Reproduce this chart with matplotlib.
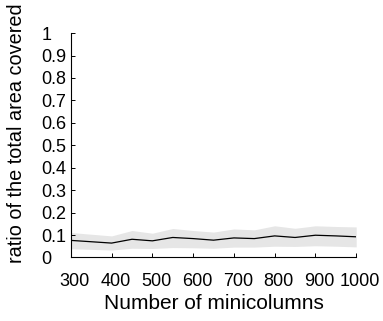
import numpy as np
import matplotlib
matplotlib.use("Agg")
import matplotlib.pyplot as plt
import matplotlib.transforms as mtransforms

plt.rcParams['font.family'] = ['Liberation Sans', 'DejaVu Sans']

# number of minicolumns and the covered-area ratio (mean, band limits)
n_minicolumns = [300, 400, 450, 500, 550, 600, 650, 700, 750, 800, 850, 900, 950, 1000]
ratio_mean = [0.076, 0.064, 0.081, 0.074, 0.089, 0.084, 0.077, 0.087, 0.084, 0.096, 0.089, 0.099, 0.096, 0.092]
ratio_upper = [0.111, 0.096, 0.120, 0.108, 0.129, 0.120, 0.113, 0.127, 0.123, 0.141, 0.130, 0.141, 0.138, 0.136]
ratio_lower = [0.039, 0.033, 0.041, 0.040, 0.044, 0.043, 0.041, 0.046, 0.046, 0.050, 0.049, 0.052, 0.050, 0.047]

y_ticks = [0, 0.1, 0.2, 0.3, 0.4, 0.5, 0.6, 0.7, 0.8, 0.9, 1]
y_ticklabels = ['0', '0.1', '0.2', '0.3', '0.4', '0.5', '0.6', '0.7', '0.8', '0.9', '1']
x_ticks = [300, 400, 500, 600, 700, 800, 900, 1000]

fig = plt.figure(figsize=(3.83, 3.21), dpi=100)
ax = fig.add_axes((0.185, 0.198, 0.745, 0.699))

ax.fill_between(n_minicolumns, ratio_lower, ratio_upper, color='#e6e6e6', linewidth=0)
ax.plot(n_minicolumns, ratio_mean, color='black', linewidth=0.9)

ax.set_xlim(300, 1000)
ax.set_ylim(0, 1)
ax.set_xticks(x_ticks)
ax.set_yticks(y_ticks)
ax.set_yticklabels(y_ticklabels, ha='left')

for side in ['top', 'right']:
    ax.spines[side].set_visible(False)
for side in ['left', 'bottom']:
    ax.spines[side].set_linewidth(0.8)

ax.tick_params(axis='both', direction='in', length=3, width=0.7, labelsize=13)
ax.tick_params(axis='x', pad=11)
ax.tick_params(axis='y', pad=21)

# x tick labels sit a little right of their ticks in the original
shift = mtransforms.ScaledTranslation(4 / 100, 0, fig.dpi_scale_trans)
for lab in ax.get_xticklabels():
    lab.set_transform(lab.get_transform() + shift)

ax.set_xlabel('Number of minicolumns', fontsize=15, labelpad=3)
fig.text(16.5 / 383, 1 - 133 / 321, 'ratio of the total area covered',
         fontsize=14.3, rotation=90, ha='center', va='center')

fig.savefig('out.png', dpi=100)
